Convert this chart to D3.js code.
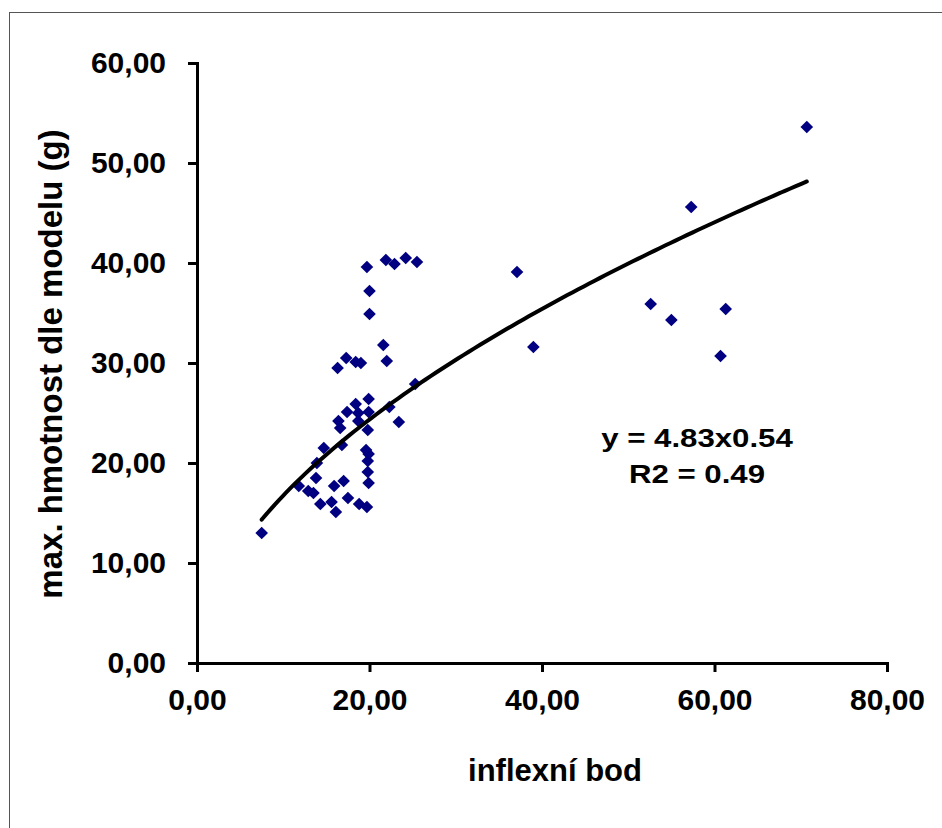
<!DOCTYPE html>
<html>
<head>
<meta charset="utf-8">
<script src="https://cdn.jsdelivr.net/npm/d3@7"></script>
<style>
  body { margin: 0; background: #fff; }
  text { font-family: Arial, "Liberation Sans", sans-serif; font-weight: bold; fill: #000; }
</style>
</head>
<body>
<div id="chart"></div>
<script>
// inflexní bod (x) vs max. hmotnost dle modelu (y)
const xVals = [
  19.7, 21.9, 22.9, 24.2, 25.5, 20.0, 20.0, 21.6, 22.0, 17.3, 16.3, 18.4, 19.0,
  25.3, 19.9, 18.4, 22.3, 17.4, 19.9, 18.7, 16.4, 18.7, 16.6, 19.8, 23.4,
  14.7, 16.8, 19.6, 19.9, 19.8, 19.8, 19.9,
  13.9, 13.8, 11.8, 12.9, 13.5, 15.9, 17.0, 17.5, 14.3, 15.6, 16.1, 18.8, 19.7, 7.5,
  70.7, 57.3, 37.1, 39.0, 52.6, 55.0, 61.3, 60.7
]
const yVals = [
  39.6, 40.3, 39.9, 40.5, 40.1, 37.2, 34.9, 31.8, 30.2, 30.5, 29.5, 30.1, 30.0,
  27.9, 26.4, 25.9, 25.6, 25.1, 25.1, 25.0, 24.2, 24.2, 23.5, 23.3, 24.1,
  21.5, 21.8, 21.3, 20.9, 20.2, 19.1, 18.0,
  20.0, 18.5, 17.7, 17.2, 17.0, 17.7, 18.2, 16.5, 15.9, 16.1, 15.1, 15.9, 15.6, 13.0,
  53.6, 45.6, 39.1, 31.6, 35.9, 34.3, 35.4, 30.7
]
const xTicks = [0, 20, 40, 60, 80]
const yTicks = [0, 10, 20, 30, 40, 50, 60]
// power trendline  y = a * x^b
const trendA = 4.83
const trendB = 0.54
const eqLines = ["y = 4.83x0.54", "R2 = 0.49"]

const width = 942
const height = 828

const svg = d3.select("#chart")
  .append("svg")
  .attr("width", width)
  .attr("height", height)

svg.append("rect")
  .attr("x", 9.5)
  .attr("y", 12.5)
  .attr("width", 960)
  .attr("height", 900)
  .attr("fill", "#fff")
  .attr("stroke", "#555")
  .attr("stroke-width", 1)

const x = d3.scaleLinear().domain([0, 80]).range([197, 887])
const y = d3.scaleLinear().domain([0, 60]).range([663, 63])

const fmt = (d) => d3.format(".2f")(d).replace(".", ",")

svg.append("g")
  .attr("transform", `translate(0,${y(0)})`)
  .call(d3.axisBottom(x).tickValues(xTicks).tickSize(9).tickPadding(17).tickFormat(fmt))

svg.append("g")
  .attr("transform", `translate(${x(0)},0)`)
  .call(d3.axisLeft(y).tickValues(yTicks).tickSize(9).tickPadding(22).tickFormat(fmt))

svg.selectAll(".domain").attr("stroke", "#000").attr("stroke-width", 3)
svg.selectAll(".tick line").attr("stroke", "#000").attr("stroke-width", 3)
svg.selectAll(".tick text")
  .style("font-size", "30px")
  .style("font-family", "Arial, 'Liberation Sans', sans-serif")
  .style("font-weight", "bold")
  .attr("fill", "#000")

// trendline from min x to max x
const xMin = d3.min(xVals)
const xMax = d3.max(xVals)
const trend = d3.range(0, 101).map((i) => {
  const xv = xMin + (xMax - xMin) * i / 100
  return [xv, trendA * Math.pow(xv, trendB)]
})

const points = xVals.map((d, i) => ({ x: d, y: yVals[i] }))

svg.append("g")
  .selectAll("path")
  .data(points)
  .join("path")
  .attr("d", d3.symbol(d3.symbolSquare, 80))
  .attr("transform", (d) => `translate(${x(d.x)},${y(d.y)}) rotate(45)`)
  .attr("fill", "#000080")

svg.append("path")
  .datum(trend)
  .attr("fill", "none")
  .attr("stroke", "#000")
  .attr("stroke-width", 4)
  .attr("stroke-linecap", "round")
  .attr("d", d3.line().x((d) => x(d[0])).y((d) => y(d[1])).curve(d3.curveBasis))

svg.append("g")
  .selectAll("text")
  .data(eqLines)
  .join("text")
  .attr("transform", (d, i) => `translate(697,${447 + i * 36}) scale(1.2,1)`)
  .attr("text-anchor", "middle")
  .style("font-size", "26px")
  .text((d) => d)

svg.append("text")
  .attr("x", 555)
  .attr("y", 781)
  .attr("text-anchor", "middle")
  .style("font-size", "31px")
  .text("inflexní bod")

svg.append("text")
  .attr("transform", "translate(62,364) rotate(-90)")
  .attr("text-anchor", "middle")
  .style("font-size", "33px")
  .text("max. hmotnost dle modelu (g)")
</script>
</body>
</html>
